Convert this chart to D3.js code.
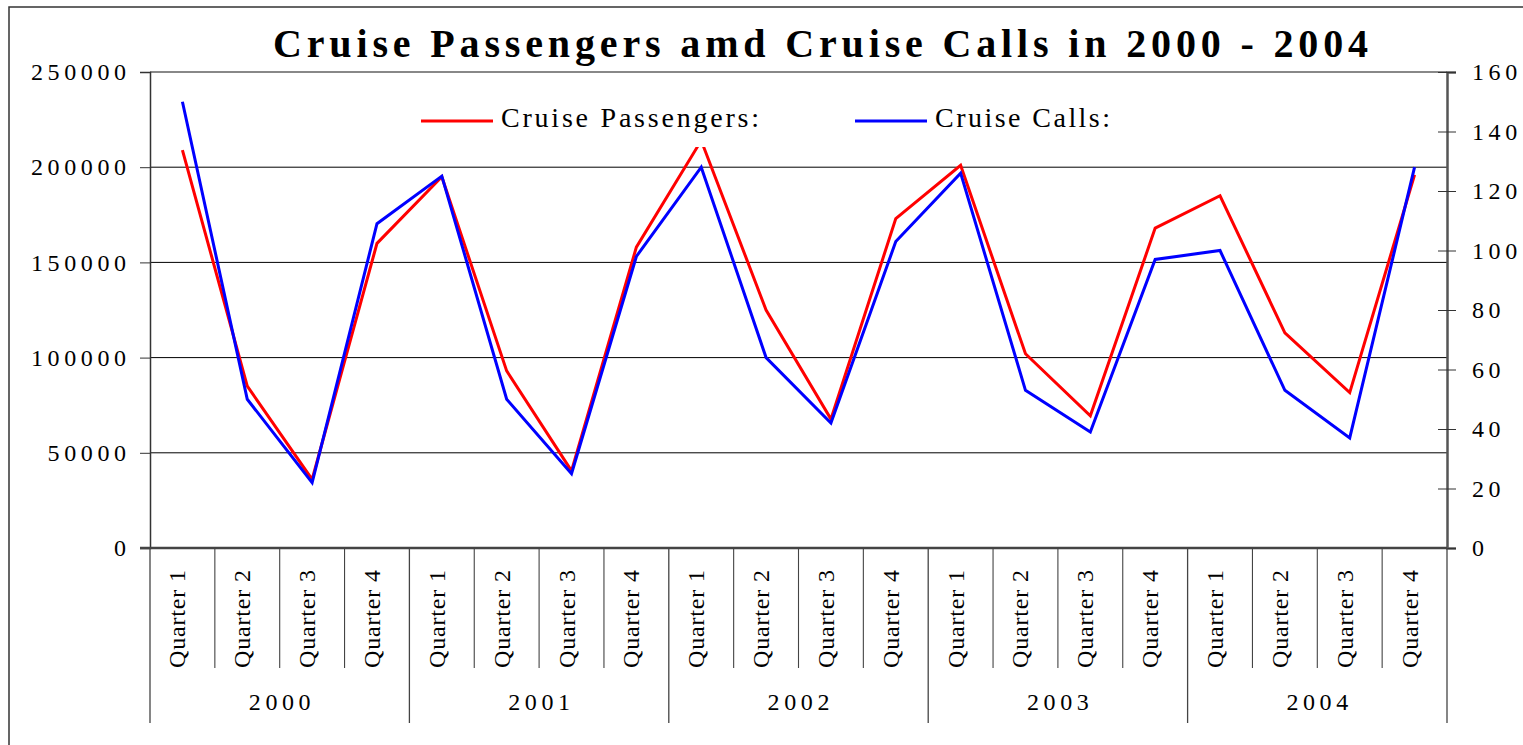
<!DOCTYPE html>
<html>
<head>
<meta charset="utf-8">
<script src="https://cdn.jsdelivr.net/npm/d3@7"></script>
<style>
  body { margin: 0; background: #fff; }
  svg { display: block; font-family: "Liberation Serif", "Times New Roman", serif; }
</style>
</head>
<body>
<svg id="chart"></svg>
<script>
// data
const years = ["2000", "2001", "2002", "2003", "2004"];
const quarters = ["Quarter 1", "Quarter 2", "Quarter 3", "Quarter 4"];
const passengers = [209000, 85000, 36000, 160000, 195000, 93000, 40500, 158000, 214000, 125000,
  67700, 173000, 201000, 102000, 69400, 168000, 185000, 113000, 81600, 196000];
const calls = [150, 50, 22, 109, 125, 50, 25, 98, 128, 64,
  42, 103, 126, 53, 39, 97, 100, 53, 37, 128];
const leftTicks = [0, 50000, 100000, 150000, 200000, 250000];
const rightTicks = [0, 20, 40, 60, 80, 100, 120, 140, 160];

const serif = '"Liberation Serif", "Times New Roman", serif';

const width = 1523;
const height = 745;
const margin = { top: 72, right: 76, bottom: 197, left: 150 };
const plotBottom = height - margin.bottom;
const plotRight = width - margin.right;

// one band per quarter
const cats = d3.range(years.length * quarters.length);

const x = d3.scaleBand()
  .domain(cats)
  .range([margin.left, plotRight]);

const yLeft = d3.scaleLinear()
  .domain([0, 250000])
  .range([plotBottom, margin.top]);

const yRight = d3.scaleLinear()
  .domain([0, 160])
  .range([plotBottom, margin.top]);

const svg = d3.select("#chart")
  .attr("width", width)
  .attr("height", height);

// outer frame
svg.append("rect")
  .attr("x", 9).attr("y", 7)
  .attr("width", width + 20).attr("height", height + 20)
  .attr("fill", "#fff")
  .attr("stroke", "#333")
  .attr("stroke-width", 1.5);

// gridlines
svg.append("g")
  .selectAll("line")
  .data(leftTicks.filter(d => d > 0 && d < 250000))
  .join("line")
  .attr("x1", margin.left).attr("x2", plotRight)
  .attr("y1", d => yLeft(d)).attr("y2", d => yLeft(d))
  .attr("stroke", "#000")
  .attr("stroke-width", 1);

// top edge of plot
svg.append("line")
  .attr("x1", margin.left).attr("x2", plotRight)
  .attr("y1", yLeft(250000)).attr("y2", yLeft(250000))
  .attr("stroke", "#888")
  .attr("stroke-width", 2);

// left axis
const gLeft = svg.append("g")
  .attr("transform", `translate(${margin.left},0)`)
  .call(d3.axisLeft(yLeft).tickValues(leftTicks).tickSize(10).tickPadding(14).tickFormat(d3.format("d")))
  .attr("font-family", serif);
gLeft.select(".domain").attr("stroke", "#333").attr("stroke-width", 1.5);
gLeft.selectAll(".tick line").attr("stroke", "#333");
gLeft.selectAll("text")
  .attr("font-size", 24)
  .attr("letter-spacing", "4.6px")
  .attr("fill", "#000")
  .attr("dx", "4.6");

// right axis
const gRight = svg.append("g")
  .attr("transform", `translate(${plotRight},0)`)
  .call(d3.axisRight(yRight).tickValues(rightTicks).tickSize(9).tickPadding(16))
  .attr("font-family", serif);
gRight.select(".domain").attr("stroke", "#555").attr("stroke-width", 2.5);
gRight.selectAll(".tick line").attr("x1", -9).attr("stroke", "#333");
gRight.selectAll("text")
  .attr("font-size", 24)
  .attr("letter-spacing", "4.6px")
  .attr("fill", "#000");

// category axis: dividers
svg.append("g")
  .selectAll("line")
  .data(d3.range(cats.length + 1))
  .join("line")
  .attr("x1", i => i < cats.length ? x(i) : plotRight)
  .attr("x2", i => i < cats.length ? x(i) : plotRight)
  .attr("y1", plotBottom)
  .attr("y2", i => i % quarters.length === 0 ? plotBottom + 175 : plotBottom + 120)
  .attr("stroke", "#444")
  .attr("stroke-width", i => i % quarters.length === 0 ? 1.3 : 1.1);

svg.append("line")
  .attr("x1", margin.left - 10).attr("x2", plotRight)
  .attr("y1", plotBottom).attr("y2", plotBottom)
  .attr("stroke", "#444")
  .attr("stroke-width", 2.5);

// quarter labels
svg.append("g")
  .selectAll("text")
  .data(cats)
  .join("text")
  .attr("transform", d => `translate(${x(d) + x.bandwidth() / 2 + 3},${plotBottom + 120}) rotate(-90)`)
  .attr("text-anchor", "start")
  .attr("font-size", 24)
  .attr("textLength", 98)
  .attr("lengthAdjust", "spacing")
  .text(d => quarters[d % quarters.length]);

// year labels
svg.append("g")
  .selectAll("text")
  .data(years)
  .join("text")
  .attr("x", (d, i) => {
    const a = x(i * quarters.length);
    const b = i === years.length - 1 ? plotRight : x((i + 1) * quarters.length);
    return (a + b) / 2 + 2.3;
  })
  .attr("y", plotBottom + 162)
  .attr("text-anchor", "middle")
  .attr("font-size", 24)
  .attr("letter-spacing", "4.6px")
  .text(d => d);

// lines
const cx = i => x(i) + x.bandwidth() / 2;

svg.append("path")
  .datum(passengers)
  .attr("fill", "none")
  .attr("stroke", "#ff0000")
  .attr("stroke-width", 3)
  .attr("stroke-linejoin", "miter")
  .attr("d", d3.line().x((d, i) => cx(i)).y(d => yLeft(d)));

svg.append("path")
  .datum(calls)
  .attr("fill", "none")
  .attr("stroke", "#0000ff")
  .attr("stroke-width", 3)
  .attr("stroke-linejoin", "miter")
  .attr("d", d3.line().x((d, i) => cx(i)).y(d => yRight(d)));

// legend (white box sits over the plot)
const legend = svg.append("g");
legend.append("rect")
  .attr("x", 405).attr("y", 94)
  .attr("width", 725).attr("height", 53)
  .attr("fill", "#fff");

const legendItems = [
  { name: "Cruise Passengers:", color: "#ff0000", x: 421, w: 258 },
  { name: "Cruise Calls:", color: "#0000ff", x: 855, w: 175 }
];
legendItems.forEach(it => {
  legend.append("line")
    .attr("x1", it.x).attr("x2", it.x + 72)
    .attr("y1", 121).attr("y2", 121)
    .attr("stroke", it.color)
    .attr("stroke-width", 3);
  legend.append("text")
    .attr("x", it.x + 80)
    .attr("y", 127)
    .attr("font-size", 28)
    .attr("textLength", it.w)
    .attr("lengthAdjust", "spacing")
    .text(it.name);
});

// title
svg.append("text")
  .attr("x", 273)
  .attr("y", 57)
  .attr("font-size", 40)
  .attr("font-weight", "bold")
  .attr("textLength", 1095)
  .attr("lengthAdjust", "spacing")
  .text("Cruise Passengers amd Cruise Calls in 2000 - 2004");
</script>
</body>
</html>
